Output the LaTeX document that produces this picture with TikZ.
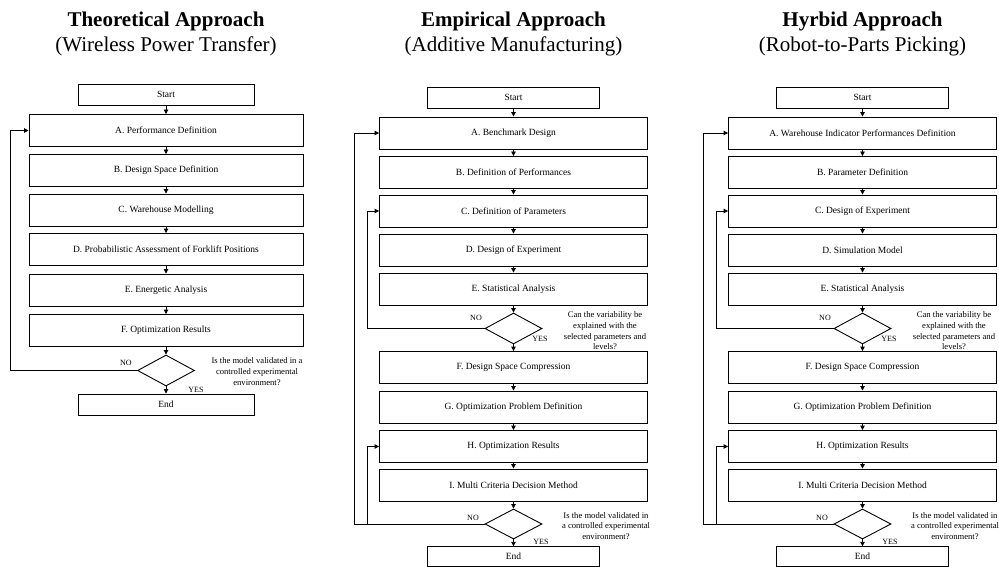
\documentclass[tikz,border=0pt]{standalone}
\usepackage{fontspec}
\setmainfont{Liberation Serif}
\newfontfamily\headfont{Liberation Serif}
\usetikzlibrary{shapes.geometric,arrows.meta}
\begin{document}
\begin{tikzpicture}[x=1pt,y=-1pt,
  box/.style={draw, line width=0.9pt, inner sep=0pt, font=\rmfamily\fontsize{9.5}{11}\selectfont, minimum height=32pt},
  wbox1/.style={box, minimum width=274pt},
  wbox/.style={box, minimum width=268pt},
  term1/.style={box, minimum height=21pt, minimum width=176pt},
  term/.style={box, minimum height=21pt, minimum width=172pt},
  dec/.style={draw, shape=diamond, line width=0.9pt, inner sep=0pt, minimum width=57pt, minimum height=31pt},
  arr/.style={line width=0.9pt, -{Triangle[length=4.5pt,width=4.5pt]}},
  lab/.style={font=\rmfamily\fontsize{8}{9}\selectfont, inner sep=0pt},
  qtext/.style={font=\rmfamily\fontsize{8.6}{10.7}\selectfont, align=center, inner sep=0pt},
  ttl/.style={font=\headfont\fontsize{21}{25}\selectfont\bfseries, anchor=base, inner sep=0pt},
  subttl/.style={font=\headfont\fontsize{21}{25}\selectfont, anchor=base, inner sep=0pt}]
\useasboundingbox (0,0) rectangle (999,567);

% ---------------- Titles
\node[ttl] (T1) at (166,27) {Theoretical Approach};
\node[subttl] (S1) at (166,52) {(Wireless Power Transfer)};
\node[ttl] (T2) at (513.5,27) {Empirical Approach};
\node[subttl] (S2) at (513.5,52) {(Additive Manufacturing)};
\node[ttl] (T3) at (862.5,27) {Hyrbid Approach};
\node[subttl] (S3) at (862.5,52) {(Robot-to-Parts Picking)};

% ---------------- Column 1
\node[term1] (St1) at (166,94.5) {Start};
\node[wbox1] (A1) at (166,130.5) {A. Performance Definition};
\node[wbox1] (B1) at (166,170.5) {B. Design Space Definition};
\node[wbox1] (C1) at (166,210) {C. Warehouse Modelling};
\node[wbox1] (D1) at (166,249.5) {D. Probabilistic Assessment of Forklift Positions};
\node[wbox1] (E1) at (166,290) {E. Energetic Analysis};
\node[wbox1] (F1) at (166,330.5) {F. Optimization Results};
\node[dec] (Q1) at (166,370.5) {};
\node[term1] (En1) at (166,404.5) {End};
\draw[arr] (St1) -- (A1);
\draw[arr] (A1) -- (B1);
\draw[arr] (B1) -- (C1);
\draw[arr] (C1) -- (D1);
\draw[arr] (D1) -- (E1);
\draw[arr] (E1) -- (F1);
\draw[arr] (F1) -- (Q1);
\draw[arr] (Q1) -- (En1);
\coordinate (L1) at (10,370.5);
\draw[arr] (Q1.west) -- (L1) |- (A1.west);
\node[lab] (N1) at (126,363) {NO};
\node[lab] (Y1) at (196,389.5) {YES};
\node[qtext] (QT1) at (257,371.5) {Is the model validated in a\\controlled experimental\\environment?};

% ---------------- Column 2
\node[term] (St2) at (513.5,97.5) {Start};
\node[wbox] (A2) at (513.5,133) {A. Benchmark Design};
\node[wbox] (B2) at (513.5,172.5) {B. Definition of Performances};
\node[wbox] (C2) at (513.5,211) {C. Definition of Parameters};
\node[wbox] (D2) at (513.5,250) {D. Design of Experiment};
\node[wbox] (E2) at (513.5,289) {E. Statistical Analysis};
\node[dec] (Q2a) at (513.5,328.5) {};
\node[wbox] (F2) at (513.5,367.5) {F. Design Space Compression};
\node[wbox] (G2) at (513.5,407) {G. Optimization Problem Definition};
\node[wbox] (H2) at (513.5,446.5) {H. Optimization Results};
\node[wbox] (I2) at (513.5,485) {I. Multi Criteria Decision Method};
\node[dec, minimum height=30pt] (Q2b) at (513.5,524) {};
\node[term, minimum height=19.5pt] (En2) at (513.5,556.5) {End};
\draw[arr] (St2) -- (A2);
\draw[arr] (A2) -- (B2);
\draw[arr] (B2) -- (C2);
\draw[arr] (C2) -- (D2);
\draw[arr] (D2) -- (E2);
\draw[arr] (E2) -- (Q2a);
\draw[arr] (Q2a) -- (F2);
\draw[arr] (F2) -- (G2);
\draw[arr] (G2) -- (H2);
\draw[arr] (H2) -- (I2);
\draw[arr] (I2) -- (Q2b);
\draw[arr] (Q2b) -- (En2);
\coordinate (L2a) at (367,328.5);
\coordinate (L2b) at (354,524);
\coordinate (L2c) at (367,524);
\draw[arr] (Q2a.west) -- (L2a) |- (C2.west);
\draw[arr] (Q2b.west) -- (L2b) |- (A2.west);
\draw[arr] (L2c) |- (H2.west);
\node[lab] (N2a) at (476,318) {NO};
\node[lab] (Y2a) at (540,339) {YES};
\node[qtext] (QT2a) at (605,331) {Can the variability be\\explained with the\\selected parameters and\\levels?};
\node[lab] (N2b) at (473,518) {NO};
\node[lab] (Y2b) at (541,542) {YES};
\node[qtext] (QT2b) at (606,526) {Is the model validated in\\a controlled experimental\\environment?};

% ---------------- Column 3
\node[term] (St3) at (862.5,97.5) {Start};
\node[wbox] (A3) at (862.5,133) {A. Warehouse Indicator Performances Definition};
\node[wbox] (B3) at (862.5,172.5) {B. Parameter Definition};
\node[wbox] (C3) at (862.5,211) {C. Design of Experiment};
\node[wbox] (D3) at (862.5,250) {D. Simulation Model};
\node[wbox] (E3) at (862.5,289) {E. Statistical Analysis};
\node[dec] (Q3a) at (862.5,328.5) {};
\node[wbox] (F3) at (862.5,367.5) {F. Design Space Compression};
\node[wbox] (G3) at (862.5,407) {G. Optimization Problem Definition};
\node[wbox] (H3) at (862.5,446.5) {H. Optimization Results};
\node[wbox] (I3) at (862.5,485) {I. Multi Criteria Decision Method};
\node[dec, minimum height=30pt] (Q3b) at (862.5,524) {};
\node[term, minimum height=19.5pt] (En3) at (862.5,556.5) {End};
\draw[arr] (St3) -- (A3);
\draw[arr] (A3) -- (B3);
\draw[arr] (B3) -- (C3);
\draw[arr] (C3) -- (D3);
\draw[arr] (D3) -- (E3);
\draw[arr] (E3) -- (Q3a);
\draw[arr] (Q3a) -- (F3);
\draw[arr] (F3) -- (G3);
\draw[arr] (G3) -- (H3);
\draw[arr] (H3) -- (I3);
\draw[arr] (I3) -- (Q3b);
\draw[arr] (Q3b) -- (En3);
\coordinate (L3a) at (716,328.5);
\coordinate (L3b) at (703,524);
\coordinate (L3c) at (716,524);
\draw[arr] (Q3a.west) -- (L3a) |- (C3.west);
\draw[arr] (Q3b.west) -- (L3b) |- (A3.west);
\draw[arr] (L3c) |- (H3.west);
\node[lab] (N3a) at (825,318) {NO};
\node[lab] (Y3a) at (889,339) {YES};
\node[qtext] (QT3a) at (954,331) {Can the variability be\\explained with the\\selected parameters and\\levels?};
\node[lab] (N3b) at (822,518) {NO};
\node[lab] (Y3b) at (890,542) {YES};
\node[qtext] (QT3b) at (955,526) {Is the model validated in\\a controlled experimental\\environment?};
\end{tikzpicture}
\end{document}
